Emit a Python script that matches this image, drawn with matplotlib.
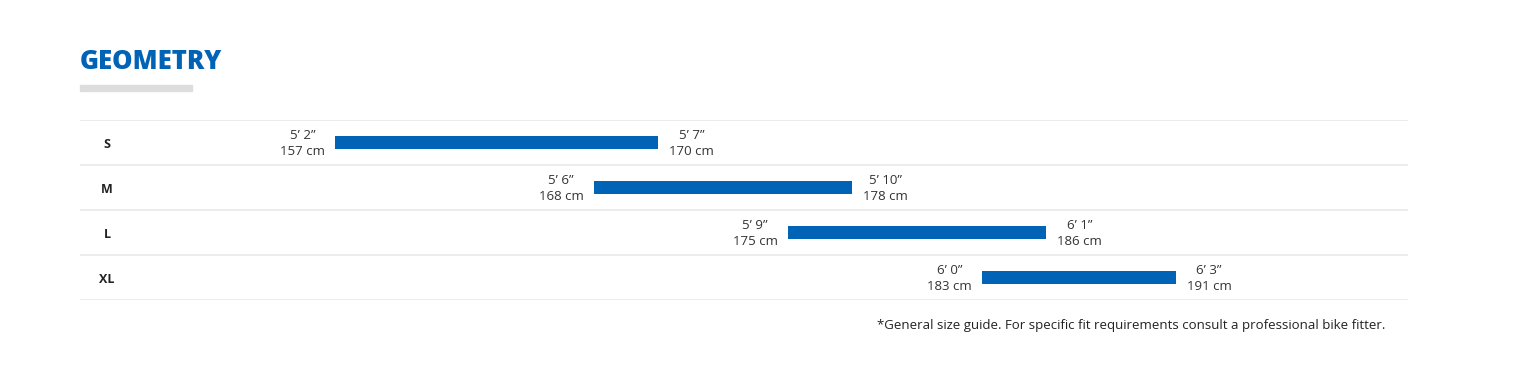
import matplotlib.pyplot as plt
import matplotlib.transforms as mtransforms

# size chart data (heights in inches, cm labels as shown)
sizes = ['S', 'M', 'L', 'XL']
min_in = [62, 66, 69, 72]
max_in = [67, 70, 73, 75]
min_ft = ['5\u2019 2\u201d', '5\u2019 6\u201d', '5\u2019 9\u201d', '6\u2019 0\u201d']
max_ft = ['5\u2019 7\u201d', '5\u2019 10\u201d', '6\u2019 1\u201d', '6\u2019 3\u201d']
min_cm = ['157 cm', '168 cm', '175 cm', '183 cm']
max_cm = ['170 cm', '178 cm', '186 cm', '191 cm']

blue = '#0063b6'
plt.rcParams['font.family'] = ['Open Sans', 'DejaVu Sans']

W, H = 1516, 385
fig = plt.figure(figsize=(W / 100, H / 100), dpi=100)
ax = fig.add_axes([80 / W, (H - 300) / H, 1328 / W, 180 / H])

y = list(range(len(sizes)))
widths = [b - a for a, b in zip(min_in, max_in)]
ax.barh(y, widths, left=min_in, height=0.31, color=blue)

ax.set_xlim(58.06, 78.59)
ax.set_ylim(len(sizes) - 0.5, -0.5)
ax.axis('off')

# row separators
for edge in [i - 0.5 for i in range(len(sizes) + 1)]:
    ax.axhline(edge, color='#e9e9e9', lw=1.2)

off = mtransforms.offset_copy
tr = mtransforms.blended_transform_factory(ax.transAxes, ax.transData)
for i, s in enumerate(sizes):
    ax.text(0.0203, i, s, transform=off(tr, fig=fig, x=0, y=-2, units='dots'),
            ha='center', va='center', fontsize=9, fontweight='bold', color='#222222')
    ax.text(min_in[i], i, min_ft[i] + '\n' + min_cm[i],
            transform=off(ax.transData, fig=fig, x=-10, y=-1, units='dots'),
            ha='right', va='center', multialignment='center',
            fontsize=9.5, color='#333333', linespacing=1.25)
    ax.text(max_in[i], i, max_ft[i] + '\n' + max_cm[i],
            transform=off(ax.transData, fig=fig, x=11, y=-1, units='dots'),
            ha='left', va='center', multialignment='center',
            fontsize=9.5, color='#333333', linespacing=1.25)

# title and underline
fig.text(80 / W, (H - 62) / H, 'GEOMETRY', ha='left', va='center',
         fontsize=18.5, fontweight='heavy', color=blue)
fig.patches.append(plt.Rectangle((80 / W, (H - 91) / H), 112 / W, 6 / H,
                                 transform=fig.transFigure, color='#dddddd'))

fig.text(1385 / W, (H - 325) / H,
         '*General size guide. For specific fit requirements consult a professional bike fitter.',
         ha='right', va='center', fontsize=9.5, color='#222222')

fig.savefig('out.png', dpi=100)
